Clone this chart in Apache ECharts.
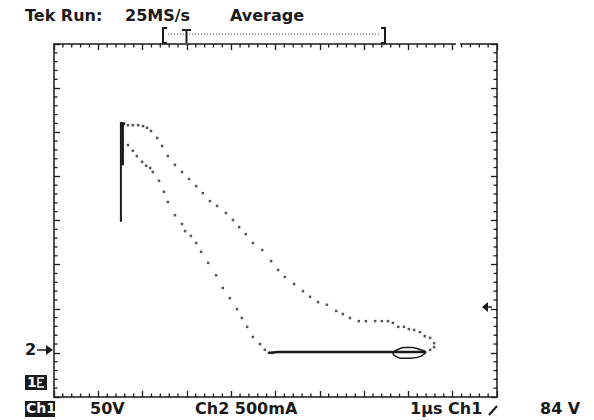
<!DOCTYPE html>
<html>
<head>
<meta charset="utf-8">
<script src="https://cdn.jsdelivr.net/npm/echarts@6/dist/echarts.min.js"></script>
<style>
html,body{margin:0;padding:0;background:#fff;}
#chart{width:594px;height:420px;}
</style>
</head>
<body>
<div id="chart"></div>
<script>
// Screen in divisions: X (Ch1) 0..10 div, Y (Ch2) 0..8 div
const xDivs = [0, 10];
const yDivs = [0, 8];
const minorPerDiv = 5;

// Dotted upper branch (x div, y div)
const upperBranch = [
  [1.58,6.19],[1.67,6.16],[1.78,6.16],[1.90,6.16],[2.01,6.14],[2.10,6.10],[2.19,6.03],
  [2.33,5.87],[2.44,5.69],[2.57,5.46],[2.73,5.26],[2.89,5.10],[3.05,4.94],[3.21,4.78],
  [3.36,4.62],[3.52,4.44],[3.68,4.33],[3.88,4.17],[4.04,4.01],[4.18,3.85],[4.33,3.69],
  [4.49,3.49],[4.70,3.33],[4.90,3.08],[5.06,2.88],[5.21,2.72],[5.42,2.56],[5.62,2.40],
  [5.78,2.27],[5.96,2.15],[6.16,2.09],[6.37,1.95],[6.52,1.88],[6.68,1.79],[6.88,1.72],
  [7.04,1.72],[7.25,1.72],[7.40,1.72],[7.54,1.72],[7.65,1.68],[7.77,1.59],[7.90,1.59],
  [8.01,1.54],[8.13,1.52],[8.26,1.47],[8.37,1.38],[8.49,1.34],[8.58,1.22],[8.58,1.13],
  [8.49,1.07],[8.37,1.02]
];

// Dotted lower branch
const lowerBranch = [
  [1.67,5.71],[1.78,5.58],[1.87,5.46],[1.99,5.33],[2.08,5.24],[2.17,5.19],[2.23,5.10],
  [2.37,4.90],[2.48,4.65],[2.57,4.42],[2.73,4.12],[2.89,3.92],[2.96,3.76],[3.09,3.65],
  [3.21,3.49],[3.32,3.29],[3.48,3.04],[3.66,2.76],[3.81,2.47],[3.97,2.24],[4.13,1.99],
  [4.24,1.79],[4.36,1.59],[4.49,1.36],[4.65,1.20],[4.76,1.07],[4.85,1.00],[4.94,1.00]
];

// Solid vertical trace at the left
const verticalTrace = [[1.51,6.23],[1.51,3.97]];
const verticalThick = [[1.55,6.21],[1.55,5.25]];
const verticalCap = [[1.50,6.21],[1.60,6.19]];

// Solid horizontal trace at the bottom
const baseTrace = [[4.85,1.00],[5.06,1.02],[8.37,1.02]];

// Small loop at the right end of the base trace
const loopTrace = [
  [8.40,1.02],[8.28,0.92],[8.05,0.88],[7.82,0.88],[7.70,0.93],[7.65,1.00],
  [7.75,1.07],[7.90,1.12],[8.10,1.12],[8.28,1.07],[8.40,1.02]
];

// Minor graticule tick positions on the four borders: [x, y, side]
// side: 0 bottom, 1 top, 2 left, 3 right
const minorTickMarks = [];
for (let i = 1; i < (xDivs[1] - xDivs[0]) * minorPerDiv; i++) {
  if (i % minorPerDiv === 0) continue;
  const v = xDivs[0] + i / minorPerDiv;
  minorTickMarks.push([v, yDivs[0], 0], [v, yDivs[1], 1]);
}
for (let i = 1; i < (yDivs[1] - yDivs[0]) * minorPerDiv; i++) {
  if (i % minorPerDiv === 0) continue;
  const v = yDivs[0] + i / minorPerDiv;
  minorTickMarks.push([xDivs[0], v, 2], [xDivs[1], v, 3]);
}

const ink = '#1a1a1a';
const axisCommon = {
  type: 'value',
  interval: 1,
  axisLine: { show: true, onZero: false, lineStyle: { color: ink, width: 1.5 } },
  axisTick: { show: true, inside: true, length: 6, lineStyle: { color: ink, width: 1.3 } },
  axisLabel: { show: false },
  splitLine: { show: false }
};

const font = '"DejaVu Sans", sans-serif';
function txt(x, y, s, opts) {
  return Object.assign({
    type: 'text', left: x, top: y,
    style: { text: s, fill: ink, font: 'bold 16px ' + font }
  }, opts || {});
}

const minorLen = 3.5;
function renderMinorTick(params, api) {
  const p = api.coord([api.value(0), api.value(1)]);
  const side = api.value(2);
  let x2 = p[0], y2 = p[1];
  if (side === 0) y2 = p[1] - minorLen;
  else if (side === 1) y2 = p[1] + minorLen;
  else if (side === 2) x2 = p[0] + minorLen;
  else x2 = p[0] - minorLen;
  return {
    type: 'line',
    shape: { x1: p[0], y1: p[1], x2: x2, y2: y2 },
    style: { stroke: ink, lineWidth: 1.3 }
  };
}

const chart = echarts.init(document.getElementById('chart'), null, { renderer: 'svg' });
chart.setOption({
  backgroundColor: '#fff',
  animation: false,
  grid: { left: 54, top: 44, width: 443, height: 353 },
  xAxis: [
    Object.assign({}, axisCommon, { min: xDivs[0], max: xDivs[1], position: 'bottom' }),
    Object.assign({}, axisCommon, { min: xDivs[0], max: xDivs[1], position: 'top' })
  ],
  yAxis: [
    Object.assign({}, axisCommon, { min: yDivs[0], max: yDivs[1], position: 'left' }),
    Object.assign({}, axisCommon, { min: yDivs[0], max: yDivs[1], position: 'right' })
  ],
  series: [
    { type: 'custom', data: minorTickMarks, renderItem: renderMinorTick, silent: true,
      encode: { x: 0, y: 1 } },
    { type: 'scatter', data: upperBranch, symbol: 'rect', symbolSize: 2.5,
      itemStyle: { color: '#2a2a2a' } },
    { type: 'scatter', data: lowerBranch, symbol: 'rect', symbolSize: 2.5,
      itemStyle: { color: '#2a2a2a' } },
    { type: 'line', data: verticalTrace, symbol: 'none',
      lineStyle: { color: ink, width: 2 } },
    { type: 'line', data: verticalThick, symbol: 'none',
      lineStyle: { color: ink, width: 2.5 } },
    { type: 'line', data: verticalCap, symbol: 'none',
      lineStyle: { color: ink, width: 2.5 } },
    { type: 'line', data: baseTrace, symbol: 'none',
      lineStyle: { color: ink, width: 2.5 } },
    { type: 'line', data: loopTrace, symbol: 'none', smooth: 0.3,
      lineStyle: { color: ink, width: 1.5 } }
  ],
  graphic: [
    // header
    txt(25, 7, 'Tek Run:'),
    txt(125, 7, '25MS/s'),
    txt(230, 7, 'Average'),
    // trigger bracket
    { type: 'polyline', shape: { points: [[167,28],[163,28],[163,43],[167,43]] },
      style: { stroke: ink, lineWidth: 2, fill: 'none' } },
    { type: 'polyline', shape: { points: [[381,28],[385,28],[385,43],[381,43]] },
      style: { stroke: ink, lineWidth: 2, fill: 'none' } },
    { type: 'line', shape: { x1: 168, y1: 34, x2: 381, y2: 34 },
      style: { stroke: '#444', lineWidth: 1, lineDash: [1, 2] } },
    { type: 'line', shape: { x1: 182, y1: 30, x2: 191, y2: 30 },
      style: { stroke: ink, lineWidth: 2 } },
    { type: 'line', shape: { x1: 186.5, y1: 30, x2: 186.5, y2: 43 },
      style: { stroke: ink, lineWidth: 2 } },
    // small gap in the top border near the right corner
    { type: 'rect', z: 100, shape: { x: 456, y: 41, width: 4, height: 9 }, style: { fill: '#fff' } },
    // left markers
    txt(25, 341, '2'),
    { type: 'line', shape: { x1: 37, y1: 350, x2: 47, y2: 350 }, style: { stroke: ink, lineWidth: 1.5 } },
    { type: 'polygon', shape: { points: [[46,345],[53,350],[46,355]] }, style: { fill: ink } },
    { type: 'rect', shape: { x: 25, y: 375, width: 22, height: 15 }, style: { fill: ink } },
    txt(27, 375, '1', { style: { text: '1', fill: '#fff', font: 'bold 14px ' + font } }),
    { type: 'polyline', shape: { points: [[44,378],[38,378],[38,387],[44,387]] },
      style: { stroke: '#fff', lineWidth: 1.5, fill: 'none' } },
    { type: 'line', shape: { x1: 38, y1: 382.5, x2: 42, y2: 382.5 }, style: { stroke: '#fff', lineWidth: 1.5 } },
    // right marker
    { type: 'polygon', shape: { points: [[482,307],[488,302],[488,312]] }, style: { fill: ink } },
    { type: 'line', shape: { x1: 487, y1: 307, x2: 492, y2: 307 }, style: { stroke: ink, lineWidth: 1.5 } },
    // footer
    { type: 'rect', shape: { x: 25, y: 401, width: 30, height: 16 }, style: { fill: ink } },
    txt(26, 401, 'Ch1', { style: { text: 'Ch1', fill: '#fff', font: 'bold 14px ' + font } }),
    txt(90, 400, '50V'),
    txt(195, 400, 'Ch2 500mA'),
    txt(410, 400, '1µs Ch1'),
    { type: 'line', shape: { x1: 489, y1: 415, x2: 497, y2: 406 }, style: { stroke: ink, lineWidth: 2 } },
    txt(540, 400, '84 V')
  ]
});
</script>
</body>
</html>
